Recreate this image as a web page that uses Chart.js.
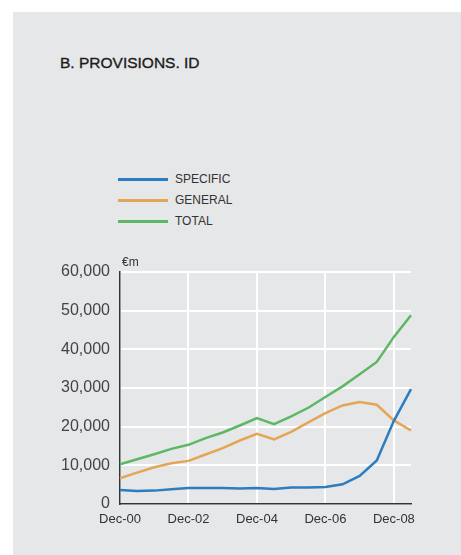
<!DOCTYPE html>
<html>
<head>
<meta charset="utf-8">
<script src="https://cdn.jsdelivr.net/npm/chart.js@4/dist/chart.umd.min.js"></script>
<style>
  html, body { margin: 0; padding: 0; background: #fff; }
  body { width: 461px; height: 555px; position: relative; overflow: hidden; font-family: "Liberation Sans", Arial, sans-serif; }
  #panel { position: absolute; left: 13px; top: 12px; right: 0; bottom: 0; background: #e6e7e8; }
  #title { position: absolute; left: 60px; top: 54px; font-size: 15.5px; color: #1c1c1c; -webkit-text-stroke: 0.35px #1c1c1c; }
  #legend { position: absolute; left: 118px; top: 171px; font-size: 12px; color: #333; }
  #legend div { height: 21px; line-height: 16px; position: relative; padding-left: 57px; }
  #legend span { position: absolute; left: 0; top: 7px; width: 50px; height: 2.5px; }
  #wrap { position: absolute; left: 0; top: 0; width: 461px; height: 555px; }
</style>
</head>
<body>
<div id="panel"></div>
<div id="title">B. PROVISIONS. ID</div>
<div id="legend"></div>
<div id="wrap"><canvas id="provisions"></canvas></div>
<script>
// half-yearly periods, Dec-00 .. Jun-09
var periods = ["Dec-00", "Jun-01", "Dec-01", "Jun-02", "Dec-02", "Jun-03", "Dec-03", "Jun-04", "Dec-04",
               "Jun-05", "Dec-05", "Jun-06", "Dec-06", "Jun-07", "Dec-07", "Jun-08", "Dec-08", "Jun-09"];
var tickLabels = ["Dec-00", "Dec-02", "Dec-04", "Dec-06", "Dec-08"];

// €m
var specific = [3630, 3370, 3460, 3800, 4150, 4150, 4150, 3980, 4150,
                3890, 4240, 4240, 4410, 5100, 7260, 11240, 21500, 29730];
var general  = [6660, 8120, 9510, 10540, 11150, 12790, 14430, 16420, 18150,
                16680, 18670, 21090, 23510, 25500, 26360, 25670, 21610, 19010];
var total    = [10290, 11580, 12880, 14260, 15300, 17030, 18500, 20300, 22210,
                20660, 22650, 24890, 27660, 30420, 33530, 36730, 43220, 48830];

var series = [
  { label: "SPECIFIC", data: specific, color: "#2b7dc0" },
  { label: "GENERAL", data: general, color: "#e4a656" },
  { label: "TOTAL", data: total, color: "#5cb865" }
];

// legend as plain html
var legendEl = document.getElementById("legend");
series.forEach(function (s) {
  var row = document.createElement("div");
  row.innerHTML = '<span style="background:' + s.color + '"></span>' + s.label;
  legendEl.appendChild(row);
});

// "€m" unit above the y axis
var unitLabel = {
  id: "unitLabel",
  afterDraw: function (chart) {
    var c = chart.ctx;
    c.save();
    c.font = "12px 'Liberation Sans', Arial, sans-serif";
    c.fillStyle = "#333";
    c.textBaseline = "bottom";
    c.fillText("€m", chart.chartArea.left + 2, chart.chartArea.top - 3);
    c.restore();
  }
};

var ctx = document.getElementById("provisions").getContext('2d');
var chart = new Chart(ctx, {
  type: "line",
  data: {
    labels: periods,
    datasets: series.map(function (s) {
      return {
        label: s.label,
        data: s.data,
        borderColor: s.color,
        backgroundColor: s.color,
        borderWidth: 2.5,
        pointRadius: 0,
        tension: 0,
        fill: false
      };
    })
  },
  options: {
    responsive: true,
    maintainAspectRatio: false,
    animation: false,
    layout: { padding: { left: 0, top: 272, right: 50, bottom: 21 } },
    plugins: { legend: { display: false }, tooltip: { enabled: false } },
    scales: {
      x: {
        offset: false,
        grid: {
          drawTicks: false,
          lineWidth: 2,
          color: function (c) { return tickLabels.indexOf(periods[c.index]) >= 0 ? "#ffffff" : "rgba(0,0,0,0)"; }
        },
        border: { display: true, color: "#333", width: 1.5 },
        ticks: {
          autoSkip: false,
          maxRotation: 0,
          padding: 8,
          color: "#333",
          font: { family: "'Liberation Sans', Arial, sans-serif", size: 13 },
          callback: function (v, i) { return tickLabels.indexOf(periods[i]) >= 0 ? periods[i] : ""; }
        },
        afterFit: function (s) { s.height = 30; }
      },
      y: {
        min: 0,
        max: 60000,
        grid: { drawTicks: false, lineWidth: 2, color: "#ffffff" },
        border: { display: true, color: "#333", width: 1.5 },
        ticks: {
          stepSize: 10000,
          padding: 10,
          color: "#444",
          font: { family: "'Liberation Sans', Arial, sans-serif", size: 16 },
          callback: function (v) { return v.toLocaleString("en-US"); }
        },
        afterFit: function (s) { s.width = 120; }
      }
    }
  },
  plugins: [unitLabel]
});
</script>
</body>
</html>
